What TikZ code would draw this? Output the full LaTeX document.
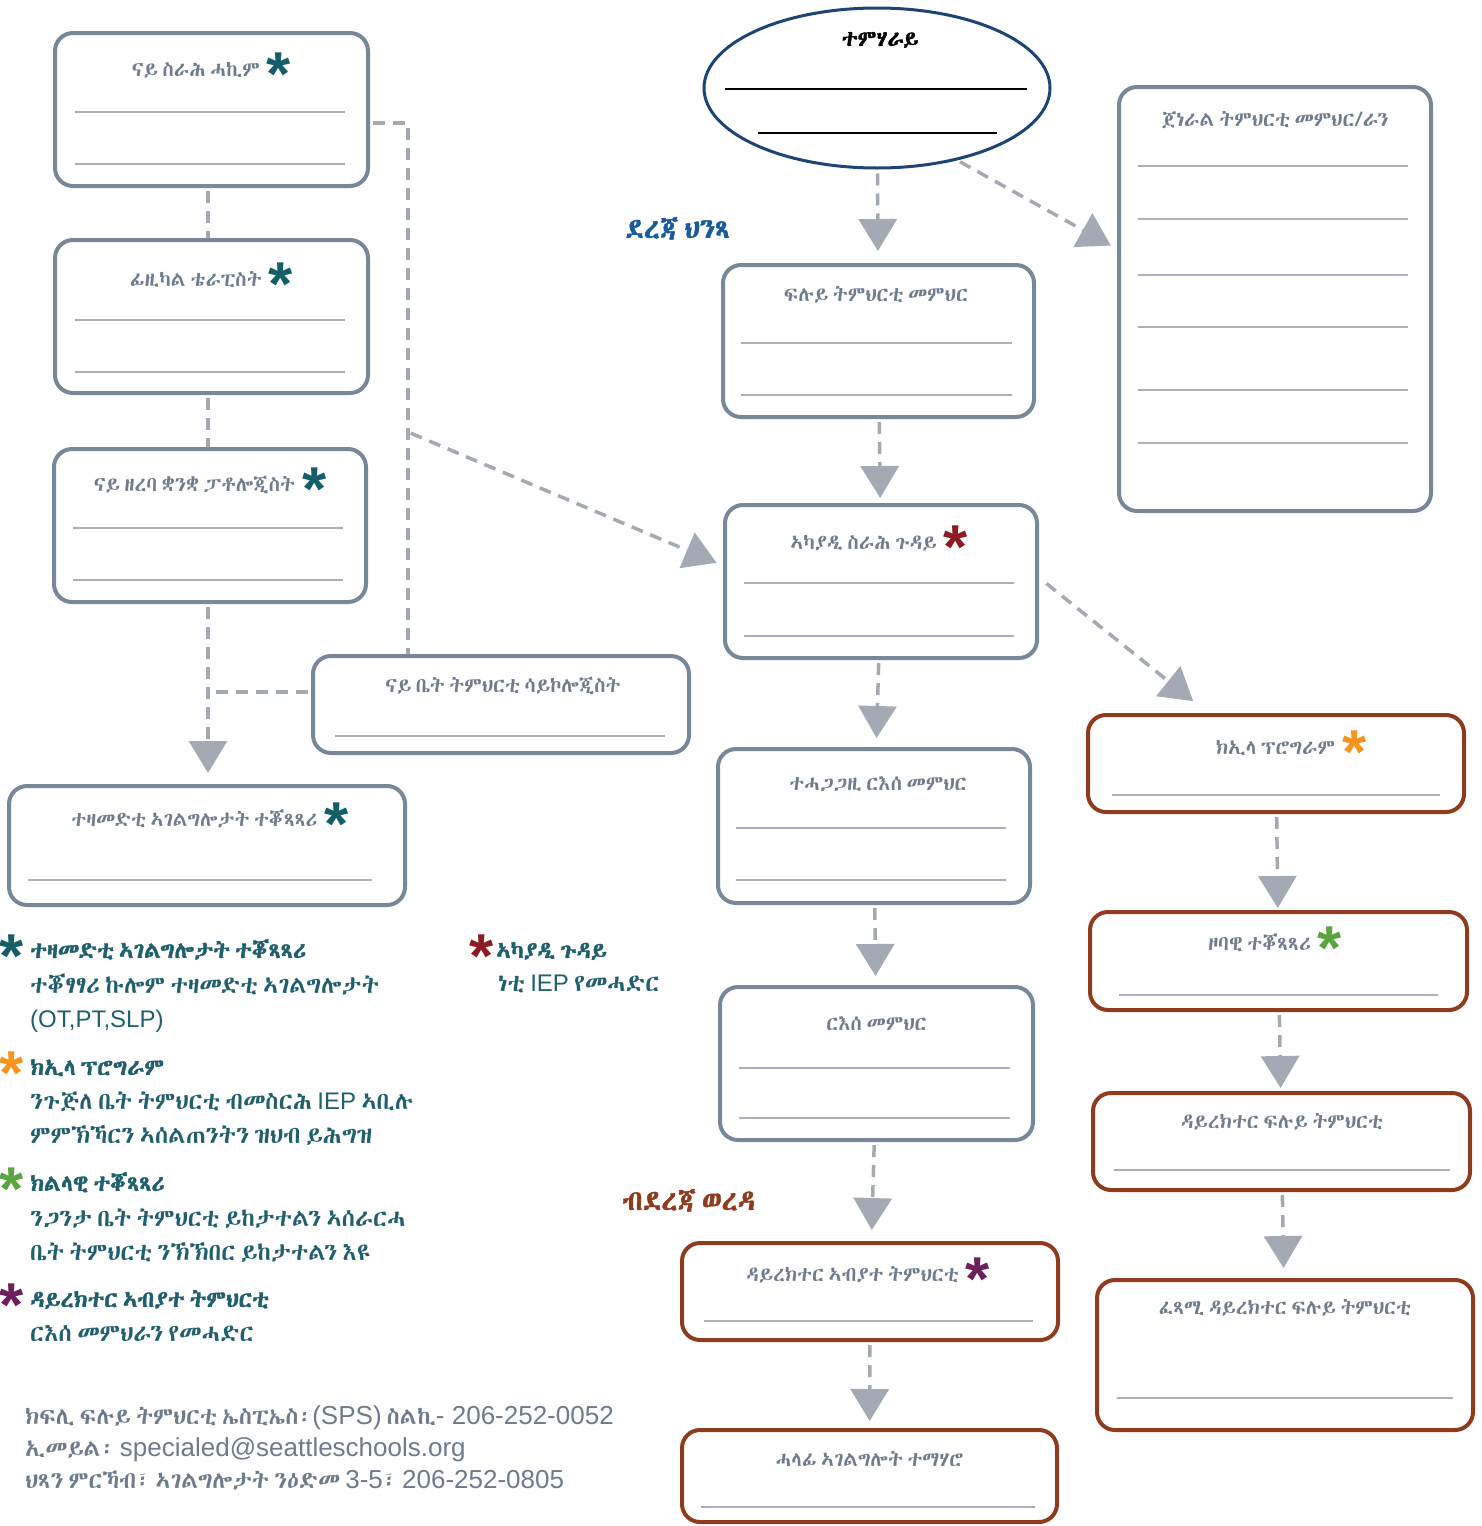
\documentclass[tikz,border=0pt]{standalone}
\usepackage{fontspec}
\usepackage{xcolor}
\usepackage{tikz}
\usetikzlibrary{arrows.meta}
\usetikzlibrary{shapes.geometric}
\setmainfont{Liberation Sans}
\IfFontExistsTF{Abyssinica SIL}{\newfontfamily\ethfont{Abyssinica SIL}[AutoFakeBold=1.6,WordSpace=0.5]}{\IfFontExistsTF{FreeSerif.otf}{\newfontfamily\ethfont{FreeSerif.otf}[AutoFakeBold=1.6,WordSpace=0.5]}{\newfontfamily\ethfont{DejaVu Sans}}}
\newfontfamily\starfont{Liberation Sans}
\definecolor{boxgray}{HTML}{78879A}
\definecolor{rulegray}{HTML}{A9B0BA}
\definecolor{dashgray}{HTML}{A4AAB4}
\definecolor{txtgray}{HTML}{6E7C8D}
\definecolor{brownc}{HTML}{8E3B1E}
\definecolor{navyc}{HTML}{1C4475}
\definecolor{tealc}{HTML}{135E69}
\definecolor{keytxt}{HTML}{1F5F6E}
\definecolor{redc}{HTML}{8E1B22}
\definecolor{orangec}{HTML}{F7941E}
\definecolor{greenc}{HTML}{5BA540}
\definecolor{purplec}{HTML}{6C1F5C}
\definecolor{bluec}{HTML}{1A5B9C}
\definecolor{footgray}{HTML}{6E7B8B}
\newcommand\tstar[1]{\textcolor{#1}{\starfont\bfseries\fontsize{62}{62}\selectfont\raisebox{-19pt}{*}}}
\newcommand\lat[1]{{\rmfamily #1}}
\newcommand\footlat[1]{{\rmfamily\fontsize{26}{30}\selectfont #1}}
\tikzset{
	grybox/.style={draw=boxgray,line width=4pt,rounded corners=18pt,fill=white},
	brnbox/.style={grybox,draw=brownc},
	boxtitle/.style={anchor=base,text=txtgray,font=\ethfont\fontsize{20.5}{24}\selectfont,inner sep=0pt},
	blank/.style={draw=rulegray,line width=2pt},
	dline/.style={draw=dashgray,line width=3.5pt,dash pattern=on 12pt off 8pt,shorten <=3pt},
	arr/.style={dline,-{Triangle[length=32pt,width=38pt]}},
	keyhead/.style={anchor=base west,text=keytxt,font=\ethfont\bfseries\fontsize{23}{28}\selectfont,inner sep=0pt},
	keybody/.style={anchor=base west,text=keytxt,font=\ethfont\fontsize{24}{28}\selectfont,inner sep=0pt},
	keystar/.style={anchor=base,inner sep=0pt},
	foot/.style={anchor=base west,text=footgray,font=\ethfont\fontsize{23.5}{30}\selectfont,inner sep=0pt}
}
\begin{document}
\begin{tikzpicture}[x=1pt,y=-1pt]
	 \useasboundingbox (0,0) rectangle (1482,1526);
	 \node[grybox,minimum width=313pt,minimum height=153pt] (doctor) at (211.5,109.5) {};
	 \node[grybox,minimum width=313pt,minimum height=153pt] (pt) at (211.5,316.5) {};
	 \node[grybox,minimum width=312pt,minimum height=153pt] (slp) at (210,525.5) {};
	 \node[grybox,minimum width=376pt,minimum height=97pt] (psych) at (501,704.5) {};
	 \node[grybox,minimum width=396pt,minimum height=119pt] (related) at (207,845.5) {};
	 \node[ellipse,draw=navyc,line width=3pt,fill=white,minimum width=346pt,minimum height=160pt] (student) at (877,88) {};
	 \node[grybox,minimum width=311pt,minimum height=152pt] (sped) at (878.5,341) {};
	 \node[grybox,minimum width=312pt,minimum height=153pt] (case) at (881,581.5) {};
	 \node[grybox,minimum width=312pt,minimum height=154pt] (ap) at (874,826) {};
	 \node[grybox,minimum width=313pt,minimum height=153pt] (principal) at (876.5,1063.5) {};
	 \node[brnbox,minimum width=376pt,minimum height=97pt] (director) at (870,1291.5) {};
	 \node[brnbox,minimum width=375pt,minimum height=92pt] (services) at (869.5,1476) {};
	 \node[grybox,minimum width=312pt,minimum height=424pt] (gened) at (1275,299) {};
	 \node[brnbox,minimum width=376pt,minimum height=97pt] (program) at (1276,763.5) {};
	 \node[brnbox,minimum width=377pt,minimum height=98pt] (regional) at (1278.5,961) {};
	 \node[brnbox,minimum width=377pt,minimum height=97pt] (spdir) at (1281.5,1141.5) {};
	 \node[brnbox,minimum width=376pt,minimum height=150pt] (exec) at (1285,1355) {};
	 \coordinate (j1) at (408,123);
	 \coordinate (j2) at (408,432);
	 \draw[dline] ([xshift=-3.5pt]doctor.south) -- ([xshift=-3.5pt]pt.north);
	 \draw[dline] ([xshift=-3.5pt]pt.south) -- ([xshift=-2pt]slp.north);
	 \draw[arr,shorten >=11pt] ([xshift=-2pt]slp.south) -- ([xshift=1pt]related.north);
	 \draw[dline] ([yshift=12.5pt]psych.west) -- ([yshift=12.5pt,xshift=-2pt]psych.west -| slp.south);
	 \draw[dline] (doctor.east |- j1) -- (j1) -- (j1 |- psych.north);
	 \draw[arr,shorten >=7pt] (j2) -- ([yshift=16pt]case.west);
	 \draw[arr,shorten <=4pt,shorten >=12pt] (student) -- (sped);
	 \draw[arr,shorten >=7pt] (student.-42) -- ([yshift=50pt]gened.west);
	 \draw[arr,shorten >=5pt] (sped) -- (case);
	 \draw[arr,shorten >=9pt] (case) -- (ap);
	 \draw[arr,shorten >=9pt] (ap) -- (principal);
	 \draw[arr,shorten >=11pt] (principal) -- (director);
	 \draw[arr,shorten >=7pt] (director) -- (services);
	 \draw[arr,shorten >=19pt] ([xshift=5pt]case.east) -- ([xshift=-68pt]program.north);
	 \draw[arr,shorten >=2pt] (program) -- (regional);
	 \draw[arr,shorten >=3pt] (regional) -- (spdir);
	 \draw[arr,shorten >=10pt] (spdir) -- (exec);
	 \foreach \y in {112,164} \draw[blank] (75,\y) -- (345,\y);
	 \foreach \y in {320,372} \draw[blank] (75,\y) -- (345,\y);
	 \foreach \y in {528,580} \draw[blank] (73,\y) -- (343,\y);
	 \draw[blank] (335,736) -- (665,736);
	 \draw[blank] (28,880) -- (372,880);
	 \foreach \y in {343,395} \draw[blank] (741,\y) -- (1012,\y);
	 \foreach \y in {583,636} \draw[blank] (744,\y) -- (1014,\y);
	 \foreach \y in {828,880} \draw[blank] (736,\y) -- (1006,\y);
	 \foreach \y in {1068,1118} \draw[blank] (739,\y) -- (1010,\y);
	 \draw[blank] (704,1321) -- (1033,1321);
	 \draw[blank] (701,1507) -- (1035,1507);
	 \foreach \y in {166,219,275,327,390,443} \draw[blank] (1138,\y) -- (1408,\y);
	 \draw[blank] (1112,795) -- (1440,795);
	 \draw[blank] (1119,995) -- (1438,995);
	 \draw[blank] (1114,1170) -- (1450,1170);
	 \draw[blank] (1117,1398) -- (1453,1398);
	 \draw[line width=2pt] (725,89) -- (1027,89);
	 \draw[line width=2pt] (758,133) -- (997,133);
	 \node[boxtitle] (doctort) at (211.5,76) {ናይ ስራሕ ሓኪም\hspace{7pt}\tstar{tealc}};
	 \node[boxtitle] (ptt) at (211.5,286) {ፊዚካል ቴራፒስት\hspace{7pt}\tstar{tealc}};
	 \node[boxtitle] (slpt) at (210,491) {ናይ ዘረባ ቋንቋ ፓቶሎጂስት\hspace{7pt}\tstar{tealc}};
	 \node[boxtitle] (psycht) at (503,692) {ናይ ቤት ትምህርቲ ሳይኮሎጂስት};
	 \node[boxtitle] (relatedt) at (210,826) {ተዛመድቲ ኣገልግሎታት ተቖጻጻሪ\hspace{7pt}\tstar{tealc}};
	 \node[boxtitle,text=black,font=\ethfont\bfseries\fontsize{22}{26}\selectfont] (studentt) at (880,46) {ተምሃራይ};
	 \node[boxtitle] (spedt) at (876,301) {ፍሉይ ትምህርቲ መምህር};
	 \node[boxtitle] (caset) at (879,549) {ኣካያዲ ስራሕ ጉዳይ\hspace{7pt}\tstar{redc}};
	 \node[boxtitle] (apt) at (878,790) {ተሓጋጋዚ ርእሰ መምህር};
	 \node[boxtitle] (principalt) at (876.5,1030) {ርእሰ መምህር};
	 \node[boxtitle] (directort) at (868,1281) {ዳይረክተር ኣብያተ ትምህርቲ\hspace{7pt}\tstar{purplec}};
	 \node[boxtitle] (servicest) at (869.5,1466) {ሓላፊ ኣገልግሎት ተማሃሮ};
	 \node[boxtitle] (genedt) at (1275,126) {ጀነራል ትምህርቲ መምህር/ራን};
	 \node[boxtitle] (programt) at (1291,754) {ክኢላ ፕሮግራም\hspace{7pt}\tstar{orangec}};
	 \node[boxtitle] (regionalt) at (1275,950) {ዞባዊ ተቖጻጻሪ\hspace{7pt}\tstar{greenc}};
	 \node[boxtitle] (spdirt) at (1282,1128) {ዳይረክተር ፍሉይ ትምህርቲ};
	 \node[boxtitle] (exect) at (1285,1314) {ፈጻሚ ዳይረክተር ፍሉይ ትምህርቲ};
	 \node[anchor=base west,text=bluec,font=\ethfont\bfseries\fontsize{28}{32}\selectfont,inner sep=0pt] (site) at (625,238) {ደረጃ ህንጻ};
	 \node[anchor=base west,text=brownc,font=\ethfont\bfseries\fontsize{28}{32}\selectfont,inner sep=0pt] (district) at (622,1210) {ብደረጃ ወረዳ};
	 \node[keystar] (k1s) at (12,958) {\tstar{tealc}};
	 \node[keyhead] (k1) at (30,958) {ተዛመድቲ ኣገልግሎታት ተቖጻጻሪ};
	 \node[keybody] (k1a) at (30,993) {ተቖፃፃሪ ኩሎም ተዛመድቲ ኣገልግሎታት};
	 \node[keybody] (k1b) at (30,1027) {\lat{(OT,PT,SLP)}};
	 \node[keystar] (k2s) at (12,1075) {\tstar{orangec}};
	 \node[keyhead] (k2) at (30,1075) {ክኢላ ፕሮግራም};
	 \node[keybody] (k2a) at (30,1109) {ንጉጅለ ቤት ትምህርቲ ብመስርሕ \lat{IEP} ኣቢሉ};
	 \node[keybody] (k2b) at (30,1143) {ምምኽኻርን ኣሰልጠንትን ዝህብ ይሕግዝ};
	 \node[keystar] (k3s) at (12,1191) {\tstar{greenc}};
	 \node[keyhead] (k3) at (30,1191) {ክልላዊ ተቖጻጻሪ};
	 \node[keybody] (k3a) at (30,1226) {ንጋንታ ቤት ትምህርቲ ይከታተልን ኣሰራርሓ};
	 \node[keybody] (k3b) at (30,1260) {ቤት ትምህርቲ ንኽኽበር ይከታተልን እዩ};
	 \node[keystar] (k4s) at (12,1307) {\tstar{purplec}};
	 \node[keyhead] (k4) at (30,1307) {ዳይረክተር ኣብያተ ትምህርቲ};
	 \node[keybody] (k4a) at (30,1341) {ርእሰ መምህራን የመሓድር};
	 \node[keystar] (k5s) at (482,958) {\tstar{redc}};
	 \node[keyhead] (k5) at (496,958) {ኣካያዲ ጉዳይ};
	 \node[keybody] (k5a) at (498,991) {ነቲ \lat{IEP} የመሓድር};
	 \node[foot] (f1) at (25,1424) {ክፍሊ ፍሉይ ትምህርቲ ኤስፒኤስ፡\footlat{(SPS)} ስልኪ\footlat{- 206-252-0052}};
	 \node[foot] (f2) at (25,1456) {ኢመይል፡ \footlat{specialed@seattleschools.org}};
	 \node[foot] (f3) at (25,1488) {ህጻን ምርኻብ፣ ኣገልግሎታት ንዕድመ \footlat{3-5}፣ \footlat{206-252-0805}};
\end{tikzpicture}
\end{document}
